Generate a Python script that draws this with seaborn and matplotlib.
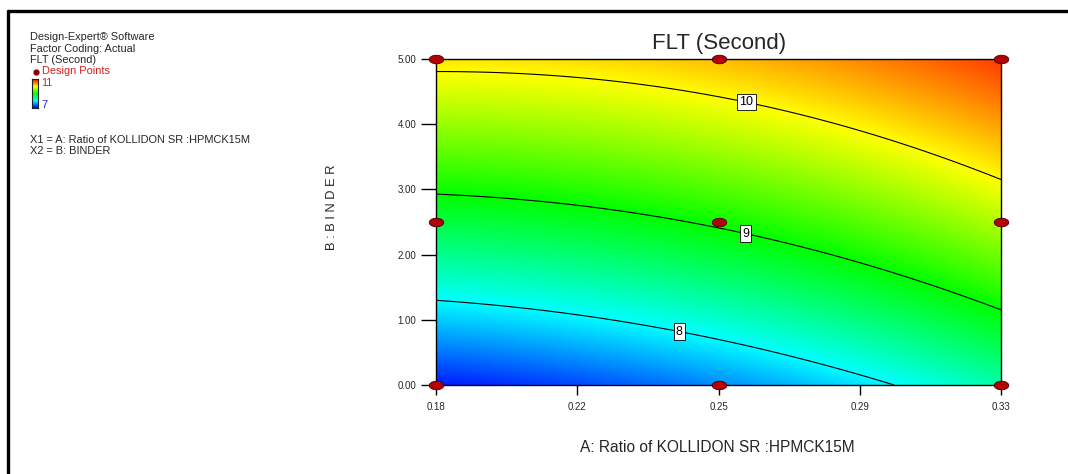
import numpy as np
import matplotlib
matplotlib.use("Agg")
import matplotlib.pyplot as plt
import seaborn as sns
import pandas as pd
from matplotlib.colors import LinearSegmentedColormap
from matplotlib.lines import Line2D

# ---------------- data ----------------
# Response-surface model for FLT (Second), coded factors a (A) and b (B) in [-1, 1]
# terms: intercept, a, b, ab, a^2, b^2
model_coef = [9.049, 0.4725, 1.35, -0.14, 0.173, -0.1465]
A_range = [0.18, 0.33]
B_range = [0.0, 5.0]
contour_levels = [8, 9, 10]
label_pos = [(0.2448, 0.89), (0.2625, 2.41), (0.2626, 4.40)]

design_A = [0.18, 0.255, 0.33, 0.18, 0.255, 0.33, 0.18, 0.255, 0.33]
design_B = [0.0, 0.0, 0.0, 2.5, 2.5, 2.5, 5.0, 5.0, 5.0]

x_ticks = [0.18, 0.2175, 0.255, 0.2925, 0.33]
x_tick_labels = ["0.18", "0.22", "0.25", "0.29", "0.33"]
y_ticks = [0, 1, 2, 3, 4, 5]
y_tick_labels = ["0.00", "1.00", "2.00", "3.00", "4.00", "5.00"]

color_min, color_max = 7, 11

# ---------------- style ----------------
sns.set_theme(style="white")
plt.rcParams["font.family"] = ["Liberation Sans", "DejaVu Sans"]

W, H = 1068, 474
fig = plt.figure(figsize=(W / 100, H / 100), dpi=100)
fig.patch.set_facecolor("white")

def fx(px):
    return px / W

def fy(py):
    return 1 - py / H

ax = fig.add_axes([fx(436), fy(385), fx(1001) - fx(436), fy(59) - fy(385)])

# surface
A_lin = np.linspace(A_range[0], A_range[1], 400)
B_lin = np.linspace(B_range[0], B_range[1], 400)
AA, BB = np.meshgrid(A_lin, B_lin)
a = (AA - sum(A_range) / 2) / ((A_range[1] - A_range[0]) / 2)
b = (BB - sum(B_range) / 2) / ((B_range[1] - B_range[0]) / 2)
c = model_coef
Z = c[0] + c[1] * a + c[2] * b + c[3] * a * b + c[4] * a ** 2 + c[5] * b ** 2

cmap = LinearSegmentedColormap.from_list(
    "de", [(0.0, "#0000ff"), (0.25, "#00ffff"), (0.5, "#00ff00"),
           (0.75, "#ffff00"), (1.0, "#ff0000")])

ax.imshow(Z, extent=[A_range[0], A_range[1], B_range[0], B_range[1]],
          origin="lower", aspect="auto", cmap=cmap, vmin=color_min, vmax=color_max,
          interpolation="bilinear")
cs = ax.contour(AA, BB, Z, levels=contour_levels, colors="black", linewidths=0.8)
labels = ax.clabel(cs, fmt="%d", fontsize=9, inline=True, inline_spacing=2,
                   manual=label_pos)
for t in labels:
    t.set_bbox(dict(facecolor="white", edgecolor="black", linewidth=0.6, pad=1.6))
    t.set_rotation(0)

# design points (ellipse marker)
theta = np.linspace(0, 2 * np.pi, 40)
ell = list(zip(1.7 * np.cos(theta), np.sin(theta)))
df = pd.DataFrame({"A": design_A, "B": design_B})
sns.scatterplot(data=df, x="A", y="B", ax=ax, marker=ell, s=110,
                color="#b40000", edgecolor="#400000", linewidth=0.6,
                zorder=5, clip_on=False, legend=False)

ax.set_xlim(A_range)
ax.set_ylim(B_range)
ax.set_xticks(x_ticks)
ax.set_xticklabels(x_tick_labels)
ax.set_yticks(y_ticks)
ax.set_yticklabels(y_tick_labels)
ax.set_xlabel("")
ax.set_ylabel("")
ax.tick_params(axis="x", direction="out", length=7, width=1, color="black",
               labelsize=7, pad=5, bottom=True)
ax.tick_params(axis="y", direction="out", length=11, width=1, color="black",
               labelsize=7, pad=3, left=True)
for s in ax.spines.values():
    s.set_visible(True)
    s.set_color("black")
    s.set_linewidth(1)

# titles / labels
fig.text(fx(719), fy(44), "FLT (Second)", ha="center", va="center", fontsize=16)
fig.text(fx(717), fy(447), "A: Ratio of KOLLIDON SR :HPMCK15M", ha="center",
         va="center", fontsize=11.2)
fig.text(fx(332), fy(207), "B : B I N D E R", ha="center", va="center",
         rotation=90, fontsize=9.3)

# left info block
fs = 7.9
fig.text(fx(30), fy(37), "Design-Expert® Software", fontsize=fs, va="center")
fig.text(fx(30), fy(48.5), "Factor Coding: Actual", fontsize=fs, va="center")
fig.text(fx(30), fy(60), "FLT (Second)", fontsize=fs, va="center")
fig.add_artist(Line2D([fx(36)], [fy(71.5)], marker="o", markersize=3.5,
                      color="#8b0000", transform=fig.transFigure))
fig.text(fx(42), fy(71.5), "Design Points", fontsize=fs, va="center", color="#d42020")
cax = fig.add_axes([fx(32), fy(108), fx(38) - fx(32), fy(79) - fy(108)])
grad = np.linspace(color_min, color_max, 100).reshape(-1, 1)
cax.imshow(grad, origin="lower", aspect="auto", cmap=cmap,
           vmin=color_min, vmax=color_max)
cax.set_xticks([])
cax.set_yticks([])
for s in cax.spines.values():
    s.set_color("#202020")
    s.set_linewidth(0.8)
fig.text(fx(41), fy(83), str(color_max), fontsize=fs, va="center", color="#e02020")
fig.text(fx(41), fy(105), str(color_min), fontsize=fs, va="center", color="#2020ff")
fig.text(fx(30), fy(140), "X1 = A: Ratio of KOLLIDON SR :HPMCK15M", fontsize=fs, va="center")
fig.text(fx(30), fy(151.5), "X2 = B: BINDER", fontsize=fs, va="center")

# outer frame (top and left)
fig.add_artist(Line2D([fx(7.5), 1.0], [fy(10.5), fy(10.5)], color="black",
                      linewidth=2.4, transform=fig.transFigure))
fig.add_artist(Line2D([fx(7.5), fx(7.5)], [fy(10.5), 0.0], color="black",
                      linewidth=2.4, transform=fig.transFigure))

fig.savefig("out.png", dpi=100)
